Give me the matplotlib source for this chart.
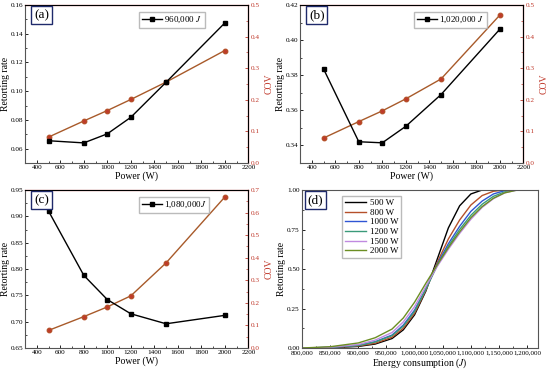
import matplotlib
matplotlib.use("Agg")
import matplotlib.pyplot as plt
from matplotlib.ticker import AutoMinorLocator, FuncFormatter, MultipleLocator

plt.rcParams['font.family'] = ['Liberation Serif', 'DejaVu Serif']
plt.rcParams['mathtext.fontset'] = 'stix'

# data
power = [500, 800, 1000, 1200, 1500, 2000]

rate_a = [0.0655, 0.0640, 0.0703, 0.0818, 0.1062, 0.1475]
cov_a = [0.082, 0.133, 0.166, 0.201, 0.256, 0.356]

rate_b = [0.3836, 0.3421, 0.3415, 0.3509, 0.3690, 0.4062]
cov_b = [0.079, 0.131, 0.165, 0.203, 0.266, 0.468]

rate_c = [0.910, 0.788, 0.742, 0.715, 0.696, 0.712]
cov_c = [0.078, 0.139, 0.182, 0.231, 0.377, 0.669]

energy = [800000, 850000, 900000, 930000, 960000, 980000, 1000000, 1020000,
          1040000, 1060000, 1080000, 1100000, 1120000, 1140000, 1160000,
          1180000, 1200000]
cdf_500 = [0, 0.002, 0.010, 0.025, 0.060, 0.115, 0.210, 0.360, 0.560, 0.760,
           0.900, 0.975, 1.0, 1.0, 1.0, 1.0, 1.0]
cdf_800 = [0, 0.003, 0.013, 0.030, 0.068, 0.125, 0.220, 0.365, 0.540, 0.690,
           0.810, 0.905, 0.965, 0.992, 1.0, 1.0, 1.0]
cdf_1000 = [0, 0.004, 0.017, 0.040, 0.082, 0.145, 0.240, 0.375, 0.530, 0.660,
            0.770, 0.865, 0.930, 0.975, 0.996, 1.0, 1.0]
cdf_1200 = [0, 0.004, 0.016, 0.038, 0.078, 0.138, 0.232, 0.372, 0.520, 0.645,
            0.750, 0.840, 0.910, 0.960, 0.988, 1.0, 1.0]
cdf_1500 = [0, 0.005, 0.022, 0.050, 0.098, 0.165, 0.262, 0.390, 0.515, 0.625,
            0.725, 0.815, 0.890, 0.945, 0.982, 0.998, 1.0]
cdf_2000 = [0, 0.008, 0.032, 0.065, 0.120, 0.190, 0.290, 0.410, 0.525, 0.635,
            0.735, 0.825, 0.895, 0.948, 0.982, 0.998, 1.0]

cdf_labels = ['500 W', '800 W', '1000 W', '1200 W', '1500 W', '2000 W']
cdf_colors = ['black', '#b5502a', '#2f55d4', '#3a9a7a', '#c08ae0', '#6b8e23']

red = '#c0392b'
brown = '#a85a2a'
fs = 5.2
lfs = 7


def label_box(ax, s, x=0.04):
    ax.text(x, 0.975, s, transform=ax.transAxes, fontsize=9.5, va='top', ha='left',
            bbox=dict(boxstyle='square,pad=0.22', fc='white', ec='#1f2a6b', lw=1.0),
            zorder=10)


def style_ax(ax):
    for s in ['left', 'bottom']:
        ax.spines[s].set_color('#555555')
        ax.spines[s].set_linewidth(0.8)
    ax.tick_params(which='both', direction='in')
    ax.tick_params(labelsize=fs, length=2.5, width=0.6, pad=1.5)
    ax.tick_params(which='minor', length=1.5, width=0.5)


def rate_cov_panel(rect, rate, cov, ylim, ystep, yfmt, covmax, leg, tag):
    ax = fig.add_axes(rect)
    style_ax(ax)
    ax.plot(power, rate, color='black', lw=1.0, marker='s', ms=3.5, zorder=4,
            label=leg)
    ax.set_xlim(300, 2200)
    ax.set_ylim(*ylim)
    ax.xaxis.set_major_locator(MultipleLocator(200))
    ax.xaxis.set_minor_locator(AutoMinorLocator(2))
    ax.yaxis.set_major_locator(MultipleLocator(ystep))
    ax.yaxis.set_minor_locator(AutoMinorLocator(2))
    ax.yaxis.set_major_formatter(FuncFormatter(lambda v, p: format(v, yfmt)))
    ax.set_xlabel('Power (W)', fontsize=lfs, labelpad=1)
    ax.set_ylabel('Retorting rate', fontsize=lfs)
    ax.yaxis.set_label_coords(-0.068, 0.5)

    ax2 = ax.twinx()
    ax2.plot(power, cov, color=brown, lw=1.0, marker='o', ms=3.2,
             mfc='#c0392b', mec='#b5502a', zorder=3)
    ax2.set_ylim(0, covmax)
    ax2.yaxis.set_major_locator(MultipleLocator(0.1))
    ax2.yaxis.set_minor_locator(AutoMinorLocator(2))
    ax2.yaxis.set_major_formatter(FuncFormatter(lambda v, p: format(v, '.1f')))
    ax2.tick_params(which='both', direction='in', colors=red)
    ax2.tick_params(labelsize=fs, length=2.5, width=0.6, pad=1.5)
    ax2.tick_params(which='minor', length=1.5, width=0.5)
    for s in ['right', 'top']:
        ax2.spines[s].set_color('#e05050')
        ax2.spines[s].set_linewidth(0.9)
    ax2.spines['left'].set_visible(False)
    ax2.spines['bottom'].set_visible(False)
    ax2.set_ylabel('COV', fontsize=lfs, color=red)
    ax2.yaxis.set_label_coords(1.074, 0.5)
    ax.set_zorder(ax2.get_zorder() + 1)
    ax.patch.set_visible(False)

    ax.legend(loc='upper left', bbox_to_anchor=(0.49, 0.985), fontsize=6.5,
              frameon=True, edgecolor='#aaaaaa', fancybox=False,
              handlelength=2.2, borderpad=0.3, handletextpad=0.3)
    label_box(ax, tag)
    return ax


fig = plt.figure(figsize=(5.5, 3.73), dpi=100)

rate_cov_panel([0.0455, 0.563, 0.406, 0.4236], rate_a, cov_a, (0.05, 0.16), 0.02,
               '.2f', 0.5, '960,000 $\\it{J}$', '(a)')
rate_cov_panel([0.5455, 0.563, 0.406, 0.4236], rate_b, cov_b, (0.33, 0.42), 0.02,
               '.2f', 0.5, '1,020,000 $\\it{J}$', '(b)')
rate_cov_panel([0.0455, 0.067, 0.406, 0.4236], rate_c, cov_c, (0.65, 0.95), 0.05,
               '.2f', 0.7, '1,080,000$\\it{J}$', '(c)')

# panel (d)
axd = fig.add_axes([0.549, 0.067, 0.429, 0.4236])
style_ax(axd)
for s in ['top', 'right']:
    axd.spines[s].set_color('#555555')
    axd.spines[s].set_linewidth(0.8)
cdfs = [cdf_500, cdf_800, cdf_1000, cdf_1200, cdf_1500, cdf_2000]
for vals, lab, col in zip(cdfs, cdf_labels, cdf_colors):
    axd.plot(energy, vals, color=col, lw=1.0, label=lab)
axd.set_xlim(800000, 1219000)
axd.set_ylim(0, 1)
axd.xaxis.set_major_locator(MultipleLocator(50000))
axd.xaxis.set_minor_locator(AutoMinorLocator(2))
axd.yaxis.set_major_locator(MultipleLocator(0.25))
axd.yaxis.set_minor_locator(AutoMinorLocator(2))
axd.xaxis.set_major_formatter(FuncFormatter(lambda v, p: format(int(v), ',')))
axd.yaxis.set_major_formatter(FuncFormatter(lambda v, p: format(v, '.2f')))
axd.tick_params(axis='x', labelsize=5.0)
axd.set_xlabel('Energy consumption ($\\it{J}$)', fontsize=lfs, labelpad=1)
axd.set_ylabel('Retorting rate', fontsize=lfs)
axd.yaxis.set_label_coords(-0.068, 0.5)
axd.legend(loc='upper left', bbox_to_anchor=(0.15, 0.99), fontsize=6.5,
           frameon=True, edgecolor='#aaaaaa', fancybox=False,
           handlelength=2.4, borderpad=0.3, labelspacing=0.15, handletextpad=0.4)
label_box(axd, '(d)', x=0.025)

fig.savefig('out.png', dpi=100)
